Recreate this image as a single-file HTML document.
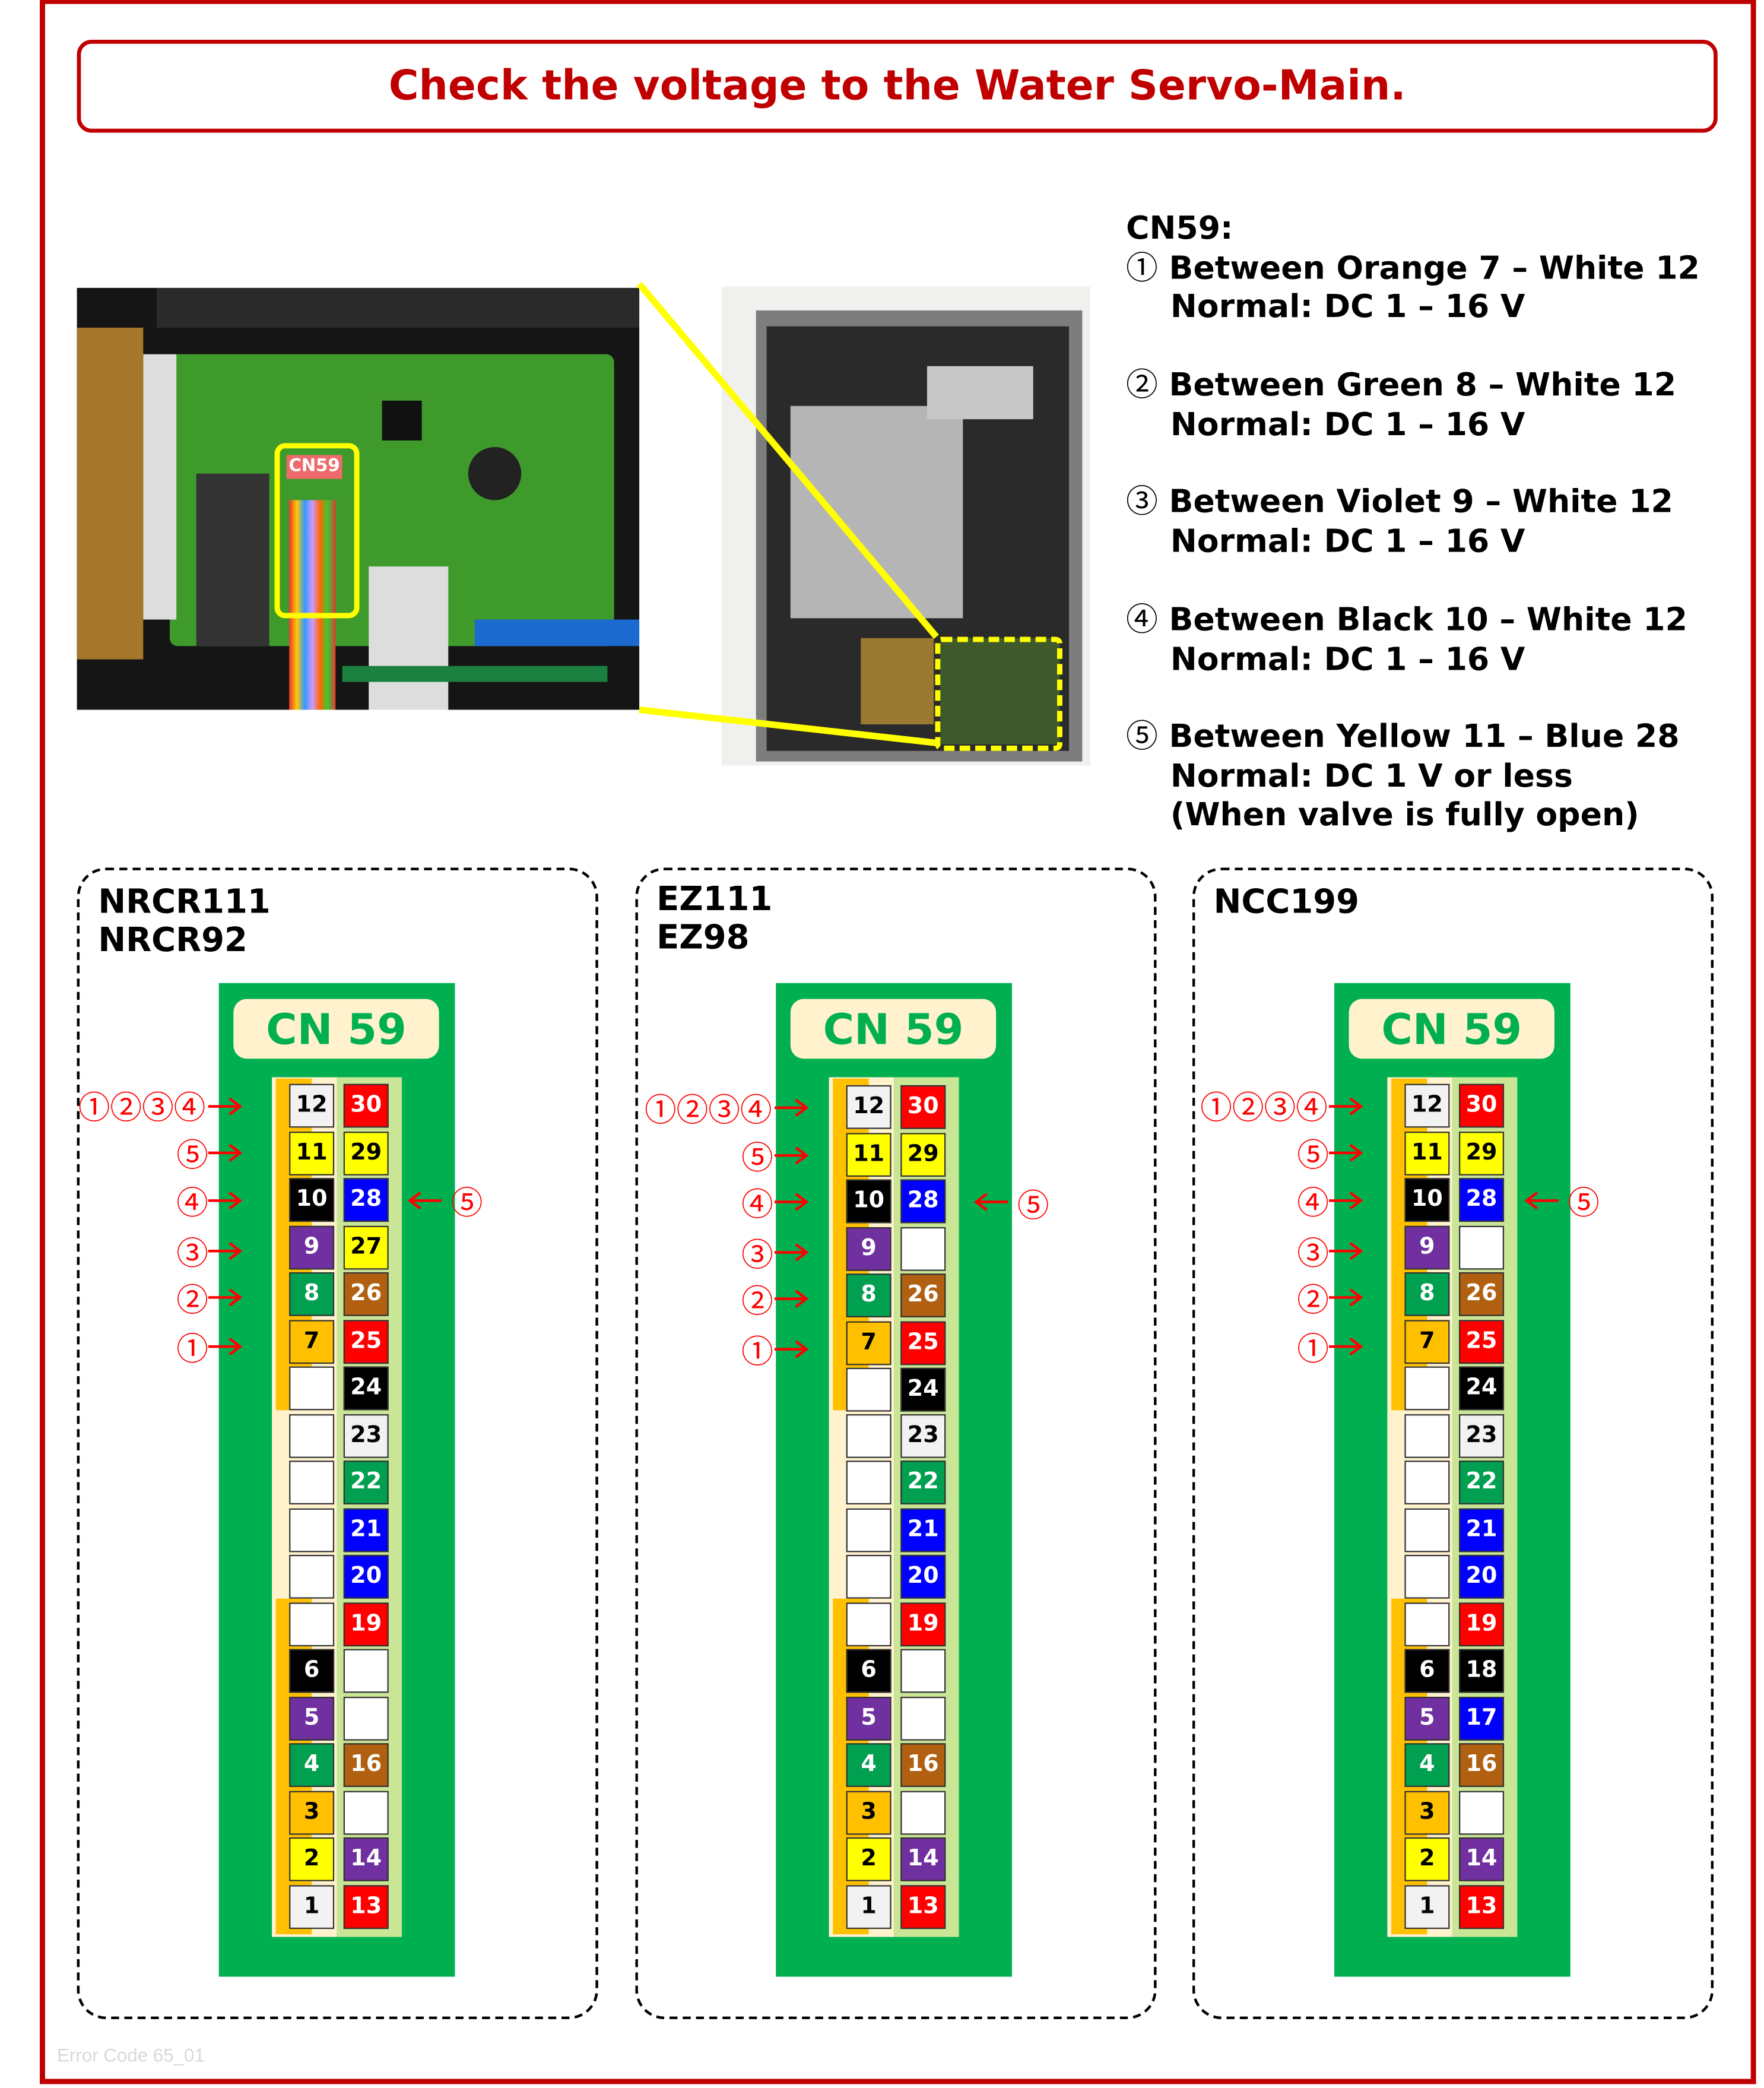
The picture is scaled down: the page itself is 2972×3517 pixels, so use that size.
<!DOCTYPE html>
<html><head><meta charset="utf-8"><style>
html,body{margin:0;padding:0;background:#fff;}
body{width:2972px;height:3516px;overflow:hidden;position:relative;}
#s{position:absolute;left:0;top:0;width:1330px;height:1574px;transform:scale(2.23459);transform-origin:0 0;font-family:"DejaVu Sans","Liberation Sans",sans-serif;}
.a{position:absolute;}
.frame{left:30px;top:0;width:1286px;height:1564px;border:4px solid #c00000;border-top-width:3px;}
.title{left:58px;top:30px;width:1231px;height:64px;border:3px solid #c00000;border-radius:11px;color:#c00000;font-weight:bold;font-size:31px;text-align:center;line-height:64px;}
.ln{position:absolute;left:849px;font-weight:bold;font-size:24px;line-height:29px;color:#000;white-space:pre;}
.cj{font-family:"Noto Sans CJK JP",sans-serif;font-weight:normal;line-height:0;}
.panel{top:654px;width:393px;height:868px;border:2px dashed #000;border-radius:22px;box-sizing:border-box;}
.plab{font-weight:bold;font-size:25px;line-height:29px;}
.g{top:741px;width:178px;height:749px;background:#00b050;}
.cn{left:11px;top:12px;width:155px;height:45px;background:#fff2cc;border-radius:10px;color:#00b050;font-weight:bold;font-size:32px;text-align:center;line-height:47px;}
.bgl{left:40px;top:71px;width:49px;height:648px;background:#fff2cc;}
.bgr{left:89px;top:71px;width:49px;height:648px;background:#c9e596;}
.or{left:43px;width:27px;background:#ffc000;}
.p{position:absolute;width:32px;height:31px;border:1px solid #333;font-weight:bold;font-size:17px;text-align:center;line-height:31px;}
.L{left:53px;}.R{left:94px;}
.w{background:#fff;}.lg{background:#f2f2f2;color:#000;}.y{background:#ff0;color:#000;}.k{background:#000;color:#fff;}
.v{background:#7030a0;color:#fff;}.gr{background:#00a050;color:#fff;}.o{background:#ffc000;color:#000;}
.r{background:#f00;color:#fff;}.b{background:#00f;color:#fff;}.br{background:#b06010;color:#fff;}
.c{position:absolute;color:#f00;font-size:24px;line-height:24px;white-space:nowrap;font-family:"Noto Sans CJK JP",sans-serif;}
</style></head><body><div id="s">
<div class="a frame"></div>
<div class="a title">Check the voltage to the Water Servo-Main.</div>

<div class="a" style="left:58px;top:217px;width:424px;height:318px;background:#151515;overflow:hidden;">
 <div class="a" style="left:0;top:30px;width:50px;height:250px;background:#a6762a;"></div>
 <div class="a" style="left:60px;top:0;width:364px;height:30px;background:#2a2a2a;"></div>
 <div class="a" style="left:70px;top:50px;width:335px;height:220px;background:#3f9a2c;border-radius:6px;"></div>
 <div class="a" style="left:90px;top:140px;width:55px;height:130px;background:#333;"></div>
 <div class="a" style="left:295px;top:120px;width:40px;height:40px;background:#222;border-radius:50%;"></div>
 <div class="a" style="left:230px;top:85px;width:30px;height:30px;background:#111;"></div>
 <div class="a" style="left:50px;top:50px;width:25px;height:200px;background:#ddd;"></div>
 <div class="a" style="left:160px;top:160px;width:35px;height:158px;background:linear-gradient(90deg,#e33,#fc0,#39f,#c9f,#f60,#3c3,#e33);"></div>
 <div class="a" style="left:220px;top:210px;width:60px;height:108px;background:#ddd;"></div>
 <div class="a" style="left:300px;top:250px;width:124px;height:20px;background:#1a6ad0;"></div>
 <div class="a" style="left:200px;top:285px;width:200px;height:12px;background:#1a8040;"></div>
</div>
<div class="a" style="left:207px;top:334px;width:56px;height:124px;border:4px solid #ff0;border-radius:8px;"></div>
<div class="a" style="left:216px;top:343px;width:42px;height:18px;background:#ef6b6b;color:#fff;font-weight:bold;font-size:13px;line-height:18px;text-align:center;">CN59</div>

<div class="a" style="left:544px;top:216px;width:278px;height:361px;background:#f0f0ee;overflow:hidden;">
 <div class="a" style="left:26px;top:18px;width:246px;height:340px;background:#7d7d7d;"></div>
 <div class="a" style="left:34px;top:30px;width:228px;height:320px;background:#2a2a2a;"></div>
 <div class="a" style="left:52px;top:90px;width:130px;height:160px;background:#b5b5b5;"></div>
 <div class="a" style="left:155px;top:60px;width:80px;height:40px;background:#c8c8c8;"></div>
 <div class="a" style="left:105px;top:265px;width:55px;height:65px;background:#9a7a30;"></div>
 <div class="a" style="left:165px;top:265px;width:90px;height:80px;background:#3e5a2c;"></div>
</div>
<div class="a" style="left:705px;top:480px;width:88px;height:78px;border:4px dashed #ff0;border-radius:5px;"></div>
<svg class="a" style="left:0;top:0;" width="1330" height="1574"><g stroke="#ff0" stroke-width="5"><line x1="482" y1="214" x2="706" y2="480"/><line x1="482" y1="535" x2="706" y2="560"/></g></svg>

<div class="ln" style="top:158px;">CN59:</div>
<div class="ln" style="top:188px;"><span class="cj">①</span> Between Orange 7 – White 12</div>
<div class="ln" style="top:217px;">    Normal: DC 1 – 16 V</div>
<div class="ln" style="top:276px;"><span class="cj">②</span> Between Green 8 – White 12</div>
<div class="ln" style="top:306px;">    Normal: DC 1 – 16 V</div>
<div class="ln" style="top:364px;"><span class="cj">③</span> Between Violet 9 – White 12</div>
<div class="ln" style="top:394px;">    Normal: DC 1 – 16 V</div>
<div class="ln" style="top:453px;"><span class="cj">④</span> Between Black 10 – White 12</div>
<div class="ln" style="top:483px;">    Normal: DC 1 – 16 V</div>
<div class="ln" style="top:541px;"><span class="cj">⑤</span> Between Yellow 11 – Blue 28</div>
<div class="ln" style="top:571px;">    Normal: DC 1 V or less</div>
<div class="ln" style="top:600px;">    (When valve is fully open)</div>

<div class="a panel" style="left:58px;"></div>
<div class="a panel" style="left:479px;"></div>
<div class="a panel" style="left:899px;"></div>
<div class="a plab" style="left:74px;top:665px;">NRCR111<br>NRCR92</div>
<div class="a plab" style="left:495px;top:663px;">EZ111<br>EZ98</div>
<div class="a plab" style="left:915px;top:665px;">NCC199</div>

<div class="a g" style="left:165px;">
 <div class="a cn">CN 59</div><div class="a bgl"></div><div class="a bgr"></div>
 <div class="a or" style="top:72px;height:250px;"></div><div class="a or" style="top:464px;height:253px;"></div>
 <div class="p L lg" style="top:76px">12</div><div class="p R r" style="top:76px">30</div>
 <div class="p L y" style="top:112px">11</div><div class="p R y" style="top:112px">29</div>
 <div class="p L k" style="top:147px">10</div><div class="p R b" style="top:147px">28</div>
 <div class="p L v" style="top:183px">9</div><div class="p R y" style="top:183px">27</div>
 <div class="p L gr" style="top:218px">8</div><div class="p R br" style="top:218px">26</div>
 <div class="p L o" style="top:254px">7</div><div class="p R r" style="top:254px">25</div>
 <div class="p L w" style="top:289px"></div><div class="p R k" style="top:289px">24</div>
 <div class="p L w" style="top:325px"></div><div class="p R lg" style="top:325px">23</div>
 <div class="p L w" style="top:360px"></div><div class="p R gr" style="top:360px">22</div>
 <div class="p L w" style="top:396px"></div><div class="p R b" style="top:396px">21</div>
 <div class="p L w" style="top:431px"></div><div class="p R b" style="top:431px">20</div>
 <div class="p L w" style="top:467px"></div><div class="p R r" style="top:467px">19</div>
 <div class="p L k" style="top:502px">6</div><div class="p R w" style="top:502px"></div>
 <div class="p L v" style="top:538px">5</div><div class="p R w" style="top:538px"></div>
 <div class="p L gr" style="top:573px">4</div><div class="p R br" style="top:573px">16</div>
 <div class="p L o" style="top:609px">3</div><div class="p R w" style="top:609px"></div>
 <div class="p L y" style="top:644px">2</div><div class="p R v" style="top:644px">14</div>
 <div class="p L lg" style="top:680px">1</div><div class="p R r" style="top:680px">13</div>
</div>
<div class="a g" style="left:585px;">
 <div class="a cn">CN 59</div><div class="a bgl"></div><div class="a bgr"></div>
 <div class="a or" style="top:72px;height:250px;"></div><div class="a or" style="top:464px;height:253px;"></div>
 <div class="p L lg" style="top:77px">12</div><div class="p R r" style="top:77px">30</div>
 <div class="p L y" style="top:113px">11</div><div class="p R y" style="top:113px">29</div>
 <div class="p L k" style="top:148px">10</div><div class="p R b" style="top:148px">28</div>
 <div class="p L v" style="top:184px">9</div><div class="p R w" style="top:184px"></div>
 <div class="p L gr" style="top:219px">8</div><div class="p R br" style="top:219px">26</div>
 <div class="p L o" style="top:255px">7</div><div class="p R r" style="top:255px">25</div>
 <div class="p L w" style="top:290px"></div><div class="p R k" style="top:290px">24</div>
 <div class="p L w" style="top:325px"></div><div class="p R lg" style="top:325px">23</div>
 <div class="p L w" style="top:360px"></div><div class="p R gr" style="top:360px">22</div>
 <div class="p L w" style="top:396px"></div><div class="p R b" style="top:396px">21</div>
 <div class="p L w" style="top:431px"></div><div class="p R b" style="top:431px">20</div>
 <div class="p L w" style="top:467px"></div><div class="p R r" style="top:467px">19</div>
 <div class="p L k" style="top:502px">6</div><div class="p R w" style="top:502px"></div>
 <div class="p L v" style="top:538px">5</div><div class="p R w" style="top:538px"></div>
 <div class="p L gr" style="top:573px">4</div><div class="p R br" style="top:573px">16</div>
 <div class="p L o" style="top:609px">3</div><div class="p R w" style="top:609px"></div>
 <div class="p L y" style="top:644px">2</div><div class="p R v" style="top:644px">14</div>
 <div class="p L lg" style="top:680px">1</div><div class="p R r" style="top:680px">13</div>
</div>
<div class="a g" style="left:1006px;">
 <div class="a cn">CN 59</div><div class="a bgl"></div><div class="a bgr"></div>
 <div class="a or" style="top:72px;height:250px;"></div><div class="a or" style="top:464px;height:253px;"></div>
 <div class="p L lg" style="top:76px">12</div><div class="p R r" style="top:76px">30</div>
 <div class="p L y" style="top:112px">11</div><div class="p R y" style="top:112px">29</div>
 <div class="p L k" style="top:147px">10</div><div class="p R b" style="top:147px">28</div>
 <div class="p L v" style="top:183px">9</div><div class="p R w" style="top:183px"></div>
 <div class="p L gr" style="top:218px">8</div><div class="p R br" style="top:218px">26</div>
 <div class="p L o" style="top:254px">7</div><div class="p R r" style="top:254px">25</div>
 <div class="p L w" style="top:289px"></div><div class="p R k" style="top:289px">24</div>
 <div class="p L w" style="top:325px"></div><div class="p R lg" style="top:325px">23</div>
 <div class="p L w" style="top:360px"></div><div class="p R gr" style="top:360px">22</div>
 <div class="p L w" style="top:396px"></div><div class="p R b" style="top:396px">21</div>
 <div class="p L w" style="top:431px"></div><div class="p R b" style="top:431px">20</div>
 <div class="p L w" style="top:467px"></div><div class="p R r" style="top:467px">19</div>
 <div class="p L k" style="top:502px">6</div><div class="p R k" style="top:502px">18</div>
 <div class="p L v" style="top:538px">5</div><div class="p R b" style="top:538px">17</div>
 <div class="p L gr" style="top:573px">4</div><div class="p R br" style="top:573px">16</div>
 <div class="p L o" style="top:609px">3</div><div class="p R w" style="top:609px"></div>
 <div class="p L y" style="top:644px">2</div><div class="p R v" style="top:644px">14</div>
 <div class="p L lg" style="top:680px">1</div><div class="p R r" style="top:680px">13</div>
</div>

<div class="c" style="left:59px;top:821px;">①②③④</div>
<div class="c" style="left:133px;top:857px;">⑤</div>
<div class="c" style="left:133px;top:893px;">④</div>
<div class="c" style="left:133px;top:931px;">③</div>
<div class="c" style="left:133px;top:966px;">②</div>
<div class="c" style="left:133px;top:1003px;">①</div>
<div class="c" style="left:340px;top:893px;">⑤</div>

<div class="c" style="left:486px;top:823px;">①②③④</div>
<div class="c" style="left:559px;top:859px;">⑤</div>
<div class="c" style="left:559px;top:894px;">④</div>
<div class="c" style="left:559px;top:932px;">③</div>
<div class="c" style="left:559px;top:967px;">②</div>
<div class="c" style="left:559px;top:1005px;">①</div>
<div class="c" style="left:767px;top:895px;">⑤</div>

<div class="c" style="left:905px;top:821px;">①②③④</div>
<div class="c" style="left:978px;top:857px;">⑤</div>
<div class="c" style="left:978px;top:893px;">④</div>
<div class="c" style="left:978px;top:931px;">③</div>
<div class="c" style="left:978px;top:966px;">②</div>
<div class="c" style="left:978px;top:1003px;">①</div>
<div class="c" style="left:1182px;top:893px;">⑤</div>

<svg class="a" style="left:0;top:0;" width="1330" height="1574"><defs>
<g id="ar"><line x1="0" y1="0" x2="24" y2="0"/><polyline points="16,-6 24,0 16,6" fill="none"/></g>
<g id="al"><line x1="0" y1="0" x2="24" y2="0"/><polyline points="8,-6 0,0 8,6" fill="none"/></g></defs>
<g stroke="#f00" stroke-width="2">
<use href="#ar" x="157" y="834"/><use href="#ar" x="157" y="869"/><use href="#ar" x="157" y="905"/><use href="#ar" x="157" y="943"/><use href="#ar" x="157" y="978"/><use href="#ar" x="157" y="1015"/><use href="#al" x="309" y="905"/>
<use href="#ar" x="584" y="835"/><use href="#ar" x="584" y="871"/><use href="#ar" x="584" y="906"/><use href="#ar" x="584" y="944"/><use href="#ar" x="584" y="979"/><use href="#ar" x="584" y="1017"/><use href="#al" x="736" y="906"/>
<use href="#ar" x="1002" y="834"/><use href="#ar" x="1002" y="869"/><use href="#ar" x="1002" y="905"/><use href="#ar" x="1002" y="943"/><use href="#ar" x="1002" y="978"/><use href="#ar" x="1002" y="1015"/><use href="#al" x="1151" y="905"/>
</g></svg>

<div class="a" style="left:43px;top:1541px;color:#d9d9d9;font-family:'Liberation Sans Narrow','Liberation Sans',sans-serif;font-size:14px;">Error Code 65_01</div>
</div></body></html>
